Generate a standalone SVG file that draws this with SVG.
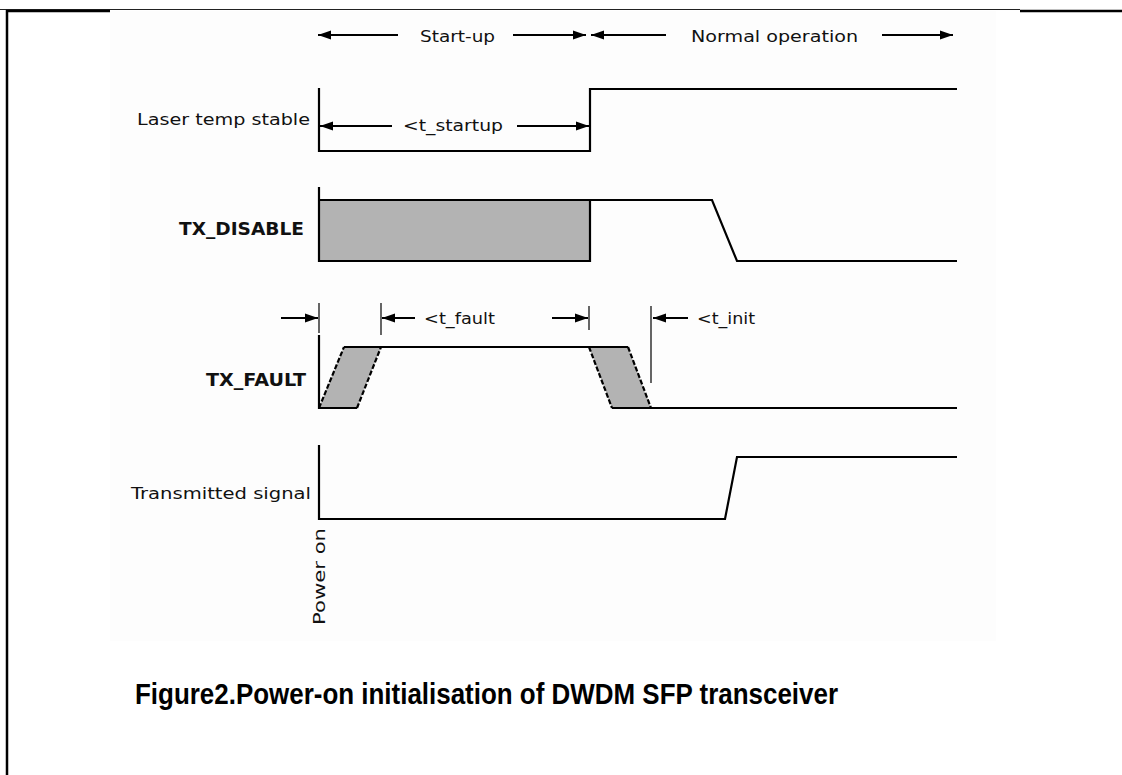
<svg xmlns="http://www.w3.org/2000/svg" width="1122" height="775" viewBox="0 0 1122 775">
<style>
.sig{fill:none;stroke:#000;stroke-width:2.2;stroke-linejoin:miter}
.thin{fill:none;stroke:#000;stroke-width:1.2}
.dash{fill:none;stroke:#000;stroke-width:2.2;stroke-dasharray:5 2}
.gray{fill:#b3b3b3;stroke:none}
.lbl{font-family:"DejaVu Sans","Liberation Sans",sans-serif;font-size:16px;fill:#111}
.lblb{font-family:"DejaVu Sans","Liberation Sans",sans-serif;font-size:17px;font-weight:bold;fill:#111}
.cap{font-family:"Liberation Sans",Arial,sans-serif;font-size:29px;font-weight:bold;fill:#000}
.arr{fill:none;stroke:#000;stroke-width:2}
</style>
<defs>
<marker id="ah" viewBox="0 0 13 10" refX="13" refY="5" markerWidth="13" markerHeight="10" markerUnits="userSpaceOnUse" orient="auto">
<path d="M0,0.5 L13,5 L0,9.5 Z" fill="#000"/>
</marker>
</defs>
<rect x="0" y="0" width="1122" height="775" fill="#fff"/>
<rect x="110" y="11" width="886" height="630" fill="#fdfdfd"/>
<g id="frame">
<line x1="0" y1="9.5" x2="1020" y2="9.5" stroke="#222" stroke-width="1"/>
<line x1="6" y1="11" x2="110" y2="11" stroke="#000" stroke-width="2.5"/>
<line x1="1020" y1="11" x2="1122" y2="11" stroke="#000" stroke-width="2.5"/>
<line x1="7" y1="10" x2="7" y2="775" stroke="#000" stroke-width="2.5"/>
</g>
<g id="phase-labels">
<text class="lbl" x="420" y="42" textLength="75" lengthAdjust="spacingAndGlyphs">Start-up</text>
<text class="lbl" x="691" y="42" textLength="167" lengthAdjust="spacingAndGlyphs">Normal operation</text>
</g>
<g id="laser-temp-stable">
<text class="lbl" x="137" y="125" textLength="173" lengthAdjust="spacingAndGlyphs">Laser temp stable</text>
<polyline class="sig" points="319,88 319,151 590,151 590,89 957,89"/>
<text class="lbl" x="403" y="131" textLength="100" lengthAdjust="spacingAndGlyphs">&lt;t_startup</text>
</g>
<g id="tx-disable">
<text class="lblb" x="179" y="235" textLength="125" lengthAdjust="spacingAndGlyphs">TX_DISABLE</text>
<rect class="gray" x="319" y="200" width="271" height="61"/>
<polyline class="sig" points="319,187 319,261 590,261 590,200"/>
<polyline class="sig" points="319,200 712,200 737,261 957,261"/>
</g>
<g id="tx-fault">
<text class="lblb" x="206" y="386" textLength="100" lengthAdjust="spacingAndGlyphs">TX_FAULT</text>
<polygon class="gray" points="319,408 344,347 381,347 357,408"/>
<polygon class="gray" points="589,347 628,347 651,408 612,408"/>
<line class="sig" x1="319" y1="335" x2="319" y2="409"/>
<line class="sig" x1="319" y1="408" x2="357" y2="408"/>
<line class="dash" x1="319" y1="408" x2="344" y2="347"/>
<line class="dash" x1="357" y1="408" x2="381" y2="347"/>
<line class="sig" x1="344" y1="347" x2="628" y2="347"/>
<line class="dash" x1="589" y1="347" x2="612" y2="408"/>
<line class="dash" x1="628" y1="347" x2="651" y2="408"/>
<line class="sig" x1="612" y1="408" x2="957" y2="408"/>
<text class="lbl" x="424" y="324" textLength="71" lengthAdjust="spacingAndGlyphs">&lt;t_fault</text>
<text class="lbl" x="697" y="324" textLength="58" lengthAdjust="spacingAndGlyphs">&lt;t_init</text>
</g>
<g id="transmitted-signal">
<text class="lbl" x="131" y="499" textLength="180" lengthAdjust="spacingAndGlyphs">Transmitted signal</text>
<polyline class="sig" points="319,445 319,519 725,519 737,457 957,457"/>
</g>
<g id="power-on">
<text class="lbl" transform="translate(325,625) rotate(-90)" x="0" y="0" textLength="97" lengthAdjust="spacingAndGlyphs">Power on</text>
</g>
<g id="connectors">
<line class="arr" x1="398" y1="35" x2="318" y2="35" marker-end="url(#ah)"/>
<line class="arr" x1="513" y1="35" x2="586" y2="35" marker-end="url(#ah)"/>
<line class="arr" x1="666" y1="35" x2="591" y2="35" marker-end="url(#ah)"/>
<line class="arr" x1="882" y1="35" x2="953" y2="35" marker-end="url(#ah)"/>
<line class="arr" x1="392" y1="126" x2="320" y2="126" marker-end="url(#ah)"/>
<line class="arr" x1="517" y1="126" x2="589" y2="126" marker-end="url(#ah)"/>
<line class="arr" x1="281" y1="318" x2="318" y2="318" marker-end="url(#ah)"/>
<line class="thin" x1="319" y1="303" x2="319" y2="333"/>
<line class="thin" x1="381" y1="303" x2="381" y2="335"/>
<line class="arr" x1="415" y1="318" x2="382" y2="318" marker-end="url(#ah)"/>
<line class="arr" x1="552" y1="318" x2="588" y2="318" marker-end="url(#ah)"/>
<line class="thin" x1="589" y1="306" x2="589" y2="330"/>
<line class="thin" x1="651" y1="306" x2="651" y2="383"/>
<line class="arr" x1="688" y1="318" x2="653" y2="318" marker-end="url(#ah)"/>
</g>
<g id="caption">
<text class="cap" x="135" y="704" textLength="703" lengthAdjust="spacingAndGlyphs">Figure2.Power-on initialisation of DWDM SFP transceiver</text>
</g>
</svg>
